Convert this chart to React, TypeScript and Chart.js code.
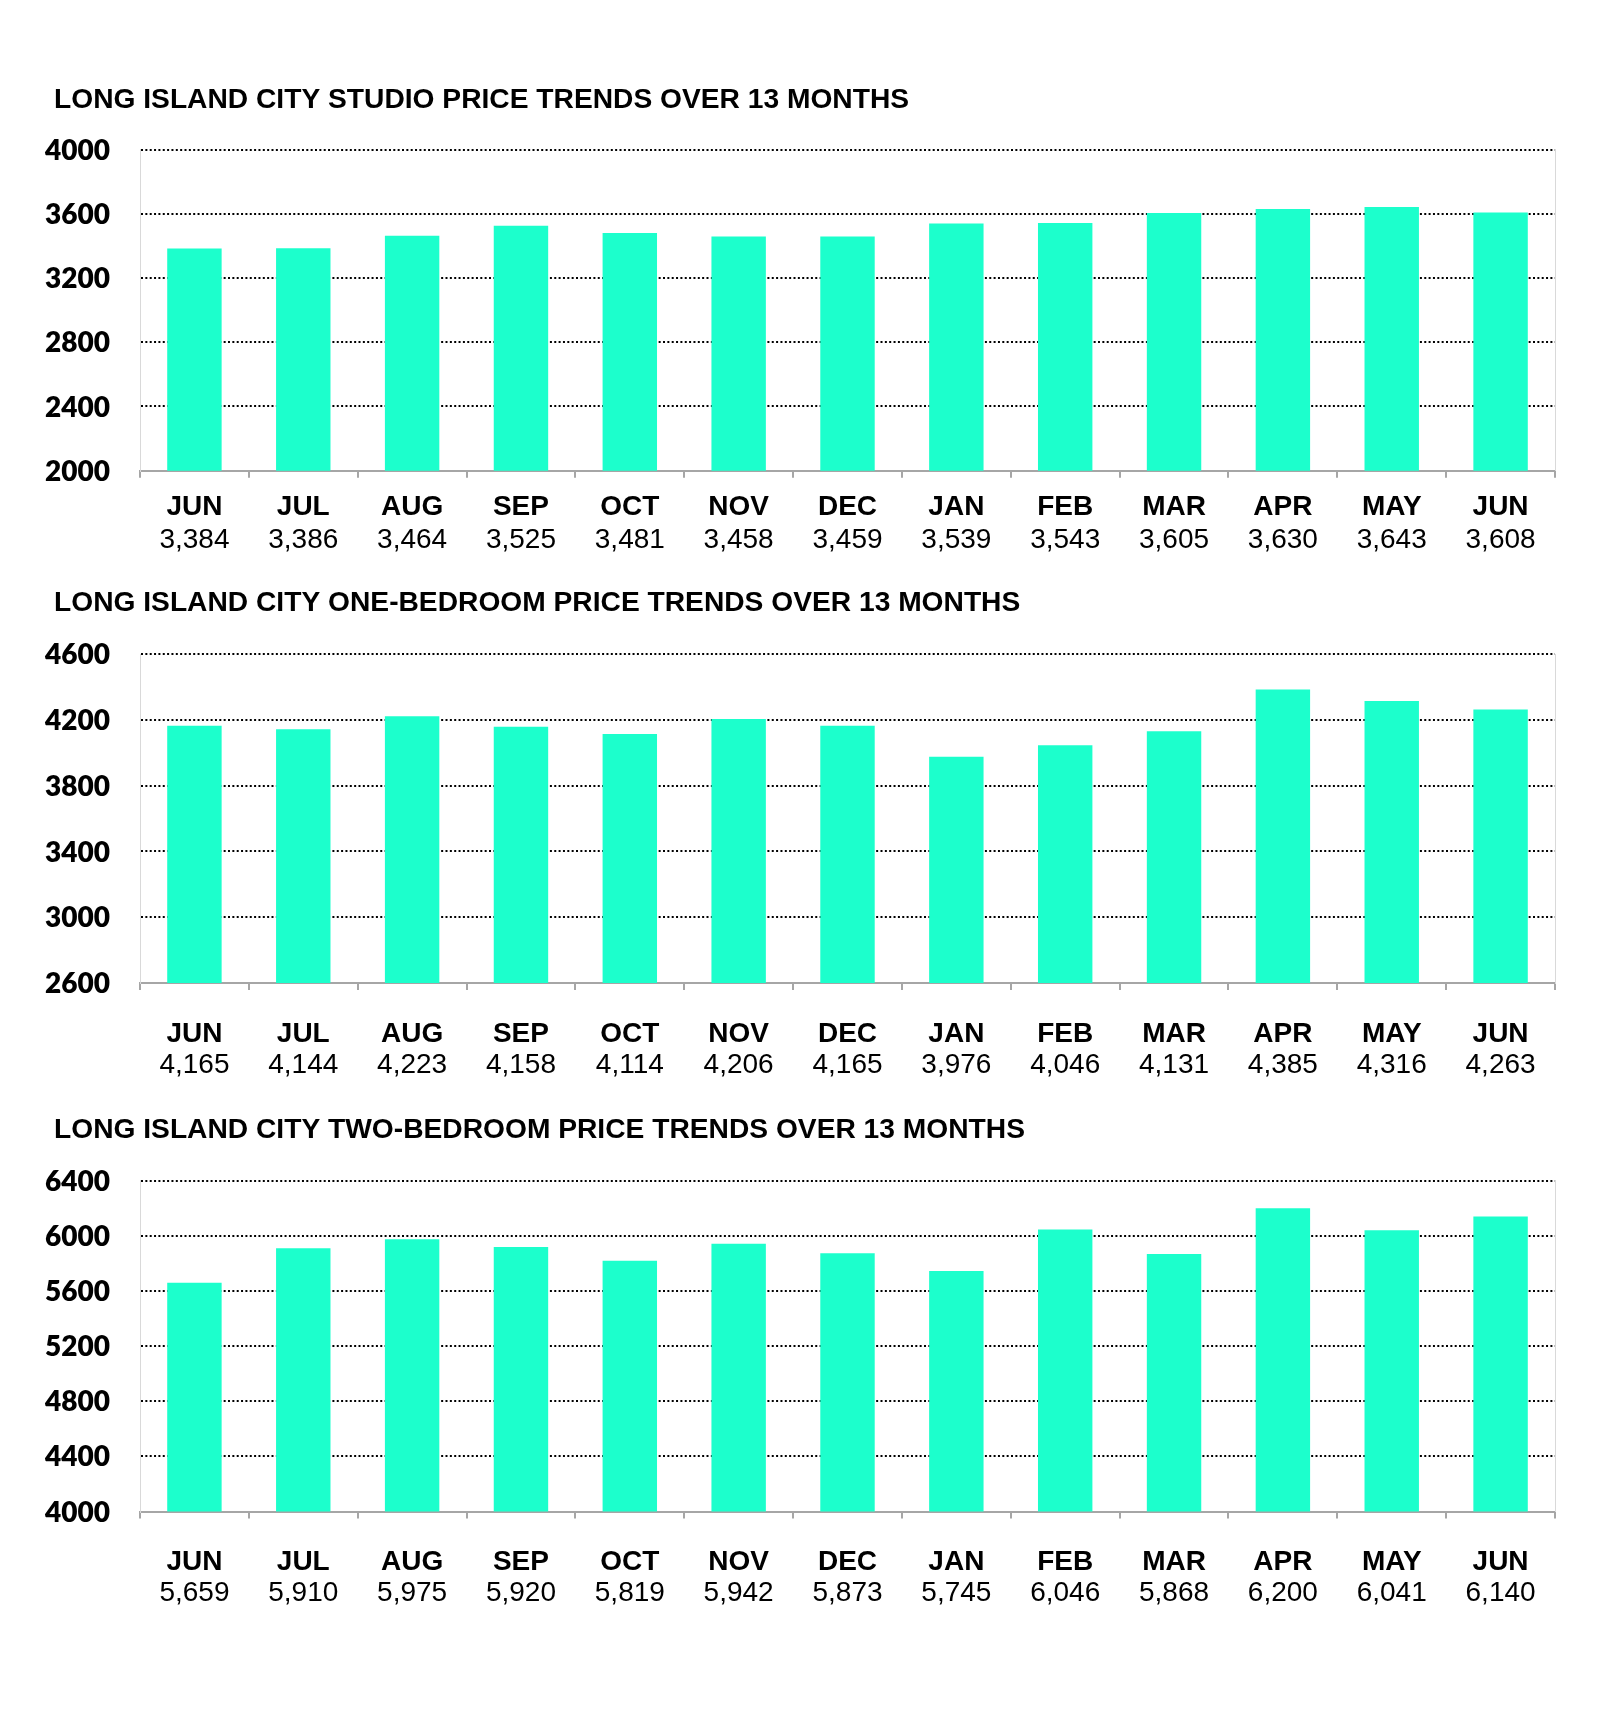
import React, { useEffect, useRef } from 'react';
import { Chart, registerables } from 'chart.js';

Chart.register(...registerables);

// ---------- data ----------
const months = ['JUN', 'JUL', 'AUG', 'SEP', 'OCT', 'NOV', 'DEC', 'JAN', 'FEB', 'MAR', 'APR', 'MAY', 'JUN'];

const studioValues = [3384, 3386, 3464, 3525, 3481, 3458, 3459, 3539, 3543, 3605, 3630, 3643, 3608];
const oneBedValues = [4165, 4144, 4223, 4158, 4114, 4206, 4165, 3976, 4046, 4131, 4385, 4316, 4263];
const twoBedValues = [5659, 5910, 5975, 5920, 5819, 5942, 5873, 5745, 6046, 5868, 6200, 6041, 6140];

const studioYTicks = [2000, 2400, 2800, 3200, 3600, 4000];
const oneBedYTicks = [2600, 3000, 3400, 3800, 4200, 4600];
const twoBedYTicks = [4000, 4400, 4800, 5200, 5600, 6000, 6400];

const studioTitle = 'LONG ISLAND CITY STUDIO PRICE TRENDS OVER 13 MONTHS';
const oneBedTitle = 'LONG ISLAND CITY ONE-BEDROOM PRICE TRENDS OVER 13 MONTHS';
const twoBedTitle = 'LONG ISLAND CITY TWO-BEDROOM PRICE TRENDS OVER 13 MONTHS';

// ---------- styles / layout ----------
const FONT = "'Liberation Sans', Arial, sans-serif";
const TICK_FONT = "Lato, 'Open Sans', sans-serif";
const BAR = '#1cffcc';
const AXIS = '#a6a6a6';
const FRAME = '#d9d9d9';
const LABEL_SIZE = 28;
const HALF = LABEL_SIZE / 2; // lineHeight 1.0
const MID = 2.5; // 'middle' baseline sits a bit above the cap centre

const layouts = [
  { canvasTop: 0, height: 565, titleY: 98, plotTop: 149.6, plotBottom: 470.7, monthY: 505, valueY: 537.3 },
  { canvasTop: 565, height: 530, titleY: 601, plotTop: 654.2, plotBottom: 983, monthY: 1032, valueY: 1063 },
  { canvasTop: 1095, height: 618, titleY: 1127.5, plotTop: 1180.7, plotBottom: 1511.6, monthY: 1559.7, valueY: 1590.5 },
];

const fmt = (v: number) => v.toLocaleString('en-US');

type Spec = { title: string; values: number[]; yTicks: number[]; layout: typeof layouts[0] };

function BarPanel({ spec }: { spec: Spec }) {
  const ref = useRef<HTMLCanvasElement | null>(null);
  useEffect(() => {
    const L = spec.layout;
    const monthC = L.monthY + MID;
    const valueC = L.valueY + MID;
    const h1 = monthC + HALF - L.plotBottom;
    const x2Top = L.plotBottom + h1;
    const h2 = L.canvasTop + L.height - x2Top;

    const titlePlugin = {
      id: 'panelTitle',
      afterDraw(chart: any) {
        const ctx = chart.ctx;
        ctx.save();
        ctx.font = `bold 28.2px ${FONT}`;
        ctx.fillStyle = '#000';
        ctx.textAlign = 'left';
        ctx.textBaseline = 'alphabetic';
        ctx.fillText(spec.title, 54, L.titleY - L.canvasTop + 10);
        ctx.restore();
      },
    };

    const chart = new Chart(ref.current as HTMLCanvasElement, {
      type: 'bar',
      data: {
        labels: months,
        datasets: [
          {
            data: spec.values,
            backgroundColor: BAR,
            borderWidth: 0,
            barPercentage: 0.5,
            categoryPercentage: 1,
          },
        ],
      },
      options: {
        responsive: false,
        animation: false,
        layout: { padding: { left: 0, right: 45, top: L.plotTop - L.canvasTop, bottom: 0 } },
        plugins: {
          legend: { display: false },
          tooltip: { enabled: false },
          title: { display: false },
        },
        scales: {
          x: {
            type: 'category',
            position: 'bottom',
            offset: true,
            grid: {
              display: true,
              offset: true,
              drawOnChartArea: false,
              drawTicks: true,
              tickLength: 7,
              color: AXIS,
              lineWidth: 2,
            },
            border: { display: true, color: AXIS, width: 2 },
            ticks: {
              color: '#000',
              font: { family: FONT, size: LABEL_SIZE, weight: 'bold', lineHeight: 1 },
              padding: h1 - 7 - 2 * HALF,
              autoSkip: false,
              maxRotation: 0,
            },
            afterFit: (s: any) => {
              s.height = h1;
            },
          },
          x2: {
            type: 'category',
            position: 'bottom',
            labels: spec.values.map(fmt),
            offset: true,
            grid: { display: false, drawTicks: false },
            border: { display: false },
            ticks: {
              color: '#000',
              font: { family: FONT, size: LABEL_SIZE, weight: 'normal', lineHeight: 1 },
              padding: valueC - HALF - x2Top,
              autoSkip: false,
              maxRotation: 0,
            },
            afterFit: (s: any) => {
              s.height = h2;
            },
          },
          y: {
            type: 'linear',
            position: 'left',
            min: spec.yTicks[0],
            max: spec.yTicks[spec.yTicks.length - 1],
            afterBuildTicks: (s: any) => {
              s.ticks = spec.yTicks.map((v) => ({ value: v }));
            },
            grid: {
              drawTicks: false,
              lineWidth: 2,
              color: (ctx: any) => (ctx.index === 0 ? 'rgba(0,0,0,0)' : '#000'),
            },
            border: { display: true, color: FRAME, width: 1, dash: [2, 2.35] },
            ticks: {
              color: '#000',
              font: { family: TICK_FONT, size: 28, weight: 800 },
              padding: 30,
              labelOffset: 1,
              callback: (v: any) => String(v),
            },
            afterFit: (s: any) => {
              s.width = 140;
            },
          },
          y2: {
            type: 'linear',
            position: 'right',
            display: true,
            grid: { display: false, drawTicks: false },
            ticks: { display: false },
            border: { display: true, color: FRAME, width: 1 },
            afterFit: (s: any) => {
              s.width = 0;
            },
          },
        },
      } as any,
      plugins: [titlePlugin],
    });
    return () => chart.destroy();
  }, [spec]);
  return (
    <div style={{ position: 'absolute', left: 0, top: spec.layout.canvasTop, width: 1600, height: spec.layout.height }}>
      <canvas ref={ref} width={1600} height={spec.layout.height} style={{ display: 'block' }} />
    </div>
  );
}

const specs: Spec[] = [
  { title: studioTitle, values: studioValues, yTicks: studioYTicks, layout: layouts[0] },
  { title: oneBedTitle, values: oneBedValues, yTicks: oneBedYTicks, layout: layouts[1] },
  { title: twoBedTitle, values: twoBedValues, yTicks: twoBedYTicks, layout: layouts[2] },
];

export default function App() {
  return (
    <div style={{ position: 'absolute', left: 0, top: 0, width: 1600, height: 1713, background: '#fff' }}>
      {specs.map((s, i) => (
        <BarPanel key={i} spec={s} />
      ))}
    </div>
  );
}
